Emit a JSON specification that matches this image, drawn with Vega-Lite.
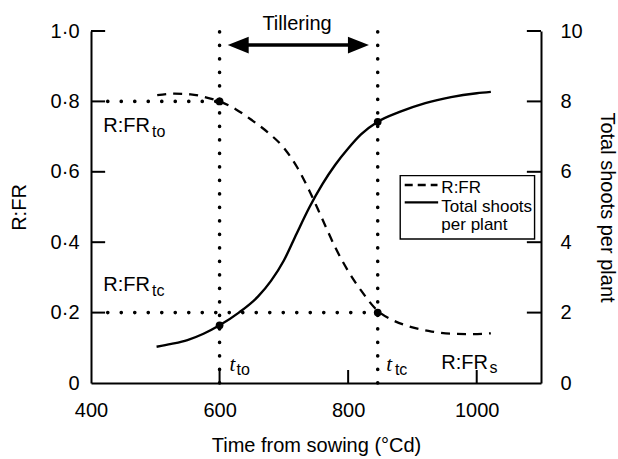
{
  "$schema": "https://vega.github.io/schema/vega-lite/v6.json",
  "width": 450,
  "height": 352,
  "autosize": {"type": "none"},
  "padding": {"left": 91, "top": 31, "right": 77, "bottom": 76},
  "background": "white",
  "config": {
    "font": "Liberation Sans",
    "view": {"stroke": null},
    "axis": {
      "grid": false,
      "ticks": false,
      "domainColor": "black",
      "domainWidth": 2,
      "labelColor": "black",
      "labelFont": "Liberation Sans",
      "labelFontSize": 20,
      "titleColor": "black",
      "titleFont": "Liberation Sans",
      "titleFontSize": 20,
      "titleFontWeight": "normal"
    }
  },
  "datasets": {
    "rfr": [
      {"x": 503, "y": 0.818}, {"x": 530, "y": 0.822}, {"x": 555, "y": 0.82}, {"x": 580, "y": 0.811},
      {"x": 600, "y": 0.8}, {"x": 625, "y": 0.778}, {"x": 650, "y": 0.747}, {"x": 675, "y": 0.712},
      {"x": 700, "y": 0.668}, {"x": 720, "y": 0.615}, {"x": 740, "y": 0.545}, {"x": 760, "y": 0.465},
      {"x": 780, "y": 0.385}, {"x": 800, "y": 0.318}, {"x": 820, "y": 0.263}, {"x": 846, "y": 0.205},
      {"x": 870, "y": 0.178}, {"x": 900, "y": 0.158}, {"x": 930, "y": 0.146}, {"x": 960, "y": 0.14},
      {"x": 990, "y": 0.139}, {"x": 1022, "y": 0.141}
    ],
    "shoots": [
      {"x": 502, "y": 1.03}, {"x": 525, "y": 1.11}, {"x": 550, "y": 1.22}, {"x": 575, "y": 1.4},
      {"x": 600, "y": 1.64}, {"x": 630, "y": 2.0}, {"x": 660, "y": 2.46}, {"x": 680, "y": 2.9},
      {"x": 700, "y": 3.48}, {"x": 720, "y": 4.25}, {"x": 740, "y": 5.0}, {"x": 760, "y": 5.65},
      {"x": 780, "y": 6.2}, {"x": 800, "y": 6.66}, {"x": 820, "y": 7.06}, {"x": 846, "y": 7.42},
      {"x": 880, "y": 7.7}, {"x": 920, "y": 7.95}, {"x": 960, "y": 8.12}, {"x": 1000, "y": 8.23},
      {"x": 1022, "y": 8.27}
    ],
    "solidRules": [
      {"x": 629, "x2": 816, "y": 0.96, "y2": 0.96, "w": "arrow"},
      {"x": 400, "x2": 422, "y": 0.2, "y2": 0.2, "w": "tick"},
      {"x": 400, "x2": 422, "y": 0.4, "y2": 0.4, "w": "tick"},
      {"x": 400, "x2": 422, "y": 0.6, "y2": 0.6, "w": "tick"},
      {"x": 400, "x2": 422, "y": 0.8, "y2": 0.8, "w": "tick"},
      {"x": 400, "x2": 422, "y": 1.0, "y2": 1.0, "w": "tick"},
      {"x": 600, "x2": 600, "y": 0, "y2": 0.037, "w": "tick"},
      {"x": 800, "x2": 800, "y": 0, "y2": 0.037, "w": "tick"},
      {"x": 1000, "x2": 1000, "y": 0, "y2": 0.037, "w": "tick"},
      {"x": 1078, "x2": 1100, "y": 0.2, "y2": 0.2, "w": "tick"},
      {"x": 1078, "x2": 1100, "y": 0.4, "y2": 0.4, "w": "tick"},
      {"x": 1078, "x2": 1100, "y": 0.6, "y2": 0.6, "w": "tick"},
      {"x": 1078, "x2": 1100, "y": 0.8, "y2": 0.8, "w": "tick"},
      {"x": 1078, "x2": 1100, "y": 1.0, "y2": 1.0, "w": "tick"}
    ],
    "guides": [
      {"x": 600, "x2": 600, "y": 0, "y2": 1.0},
      {"x": 846, "x2": 846, "y": 0, "y2": 1.0},
      {"x": 426, "x2": 600, "y": 0.8, "y2": 0.8},
      {"x": 426, "x2": 846, "y": 0.2, "y2": 0.2}
    ],
    "rfrDots": [{"x": 600, "y": 0.8}, {"x": 846, "y": 0.2}],
    "shootDots": [{"x": 600, "y": 1.64}, {"x": 846, "y": 7.42}],
    "arrowHeads": [{"x": 629, "y": 0.96, "dir": "L"}, {"x": 816, "y": 0.96, "dir": "R"}],
    "legendBox": [{"x": 881, "x2": 1090, "y": 0.409, "y2": 0.589}],
    "legendLines": [
      {"x": 888, "x2": 939, "y": 0.5625, "kind": "dash"},
      {"x": 888, "x2": 940, "y": 0.513, "kind": "solid"}
    ],
    "labels": [
      {"x": 720.5, "y": 1.003, "text": "Tillering", "kind": "center"},
      {"x": 419, "y": 0.714, "text": "R:FR", "kind": "main"},
      {"x": 495, "y": 0.7, "text": "to", "kind": "sub"},
      {"x": 419, "y": 0.262, "text": "R:FR", "kind": "main"},
      {"x": 495, "y": 0.247, "text": "tc", "kind": "sub"},
      {"x": 945, "y": 0.04, "text": "R:FR", "kind": "main"},
      {"x": 1020, "y": 0.028, "text": "s", "kind": "sub"},
      {"x": 615.6, "y": 0.034, "text": "t", "kind": "ital"},
      {"x": 626.5, "y": 0.024, "text": "to", "kind": "sub"},
      {"x": 859.4, "y": 0.034, "text": "t", "kind": "ital"},
      {"x": 872.7, "y": 0.024, "text": "tc", "kind": "sub"},
      {"x": 945, "y": 0.539, "text": "R:FR", "kind": "leg"},
      {"x": 945, "y": 0.487, "text": "Total shoots", "kind": "leg"},
      {"x": 945, "y": 0.435, "text": "per plant", "kind": "leg"}
    ]
  },
  "encoding": {
    "x": {"field": "x", "type": "quantitative", "scale": {"domain": [400, 1100], "nice": false, "zero": false},
      "axis": {"values": [400, 600, 800, 1000], "format": "d", "labelPadding": 17, "title": "Time from sowing (°Cd)", "titlePadding": 15, "labelFlush": false}}
  },
  "layer": [
    {
      "encoding": {
        "y": {"field": "y", "type": "quantitative", "scale": {"domain": [0, 1], "nice": false, "zero": false},
          "axis": {"orient": "left", "values": [0, 0.2, 0.4, 0.6, 0.8, 1.0], "labelPadding": 12, "title": "R:FR", "titlePadding": 21,
            "labelExpr": "datum.value == 0 ? '0' : replace(format(datum.value, '.1f'), '.', '·')", "labelFlush": false}}
      },
      "layer": [
        {
          "data": {"name": "guides"},
          "mark": {"type": "rule", "color": "black", "strokeWidth": 3.6, "strokeCap": "round", "strokeDash": [0.1, 13.4]},
          "encoding": {"x2": {"field": "x2"}, "y2": {"field": "y2"}}
        },
        {
          "data": {"name": "solidRules"},
          "mark": {"type": "rule", "color": "black"},
          "encoding": {
            "x2": {"field": "x2"},
            "y2": {"field": "y2"},
            "strokeWidth": {"field": "w", "type": "nominal", "legend": null, "scale": {"domain": ["arrow", "tick"], "range": [3.5, 2]}}
          }
        },
        {
          "data": {"name": "rfr"},
          "mark": {"type": "line", "color": "black", "strokeWidth": 2.3, "strokeDash": [9, 7], "interpolate": "monotone"},
          "encoding": {}
        },
        {
          "data": {"name": "rfrDots"},
          "mark": {"type": "point", "filled": true, "color": "black", "size": 60, "opacity": 1},
          "encoding": {}
        },
        {
          "data": {"name": "arrowHeads"},
          "mark": {"type": "point", "filled": true, "color": "black", "opacity": 1, "size": 441},
          "encoding": {
            "shape": {"field": "dir", "type": "nominal", "legend": null,
              "scale": {"domain": ["L", "R"], "range": ["M-1,0L1,-0.8L1,0.8Z", "M1,0L-1,-0.8L-1,0.8Z"]}}
          }
        },
        {
          "data": {"name": "legendBox"},
          "mark": {"type": "rect", "fill": "white", "stroke": "black", "strokeWidth": 1.4},
          "encoding": {"x2": {"field": "x2"}, "y2": {"field": "y2"}}
        },
        {
          "data": {"name": "legendLines"},
          "transform": [{"filter": "datum.kind == 'dash'"}],
          "mark": {"type": "rule", "color": "black", "strokeWidth": 2.3, "strokeDash": [8, 5]},
          "encoding": {"x2": {"field": "x2"}}
        },
        {
          "data": {"name": "legendLines"},
          "transform": [{"filter": "datum.kind == 'solid'"}],
          "mark": {"type": "rule", "color": "black", "strokeWidth": 2.3},
          "encoding": {"x2": {"field": "x2"}}
        },
        {
          "data": {"name": "labels"},
          "transform": [{"filter": "datum.kind == 'main'"}],
          "mark": {"type": "text", "align": "left", "baseline": "alphabetic", "fontSize": 20, "font": "Liberation Sans", "color": "black"},
          "encoding": {"text": {"field": "text"}}
        },
        {
          "data": {"name": "labels"},
          "transform": [{"filter": "datum.kind == 'center'"}],
          "mark": {"type": "text", "align": "center", "baseline": "alphabetic", "fontSize": 20, "font": "Liberation Sans", "color": "black"},
          "encoding": {"text": {"field": "text"}}
        },
        {
          "data": {"name": "labels"},
          "transform": [{"filter": "datum.kind == 'sub'"}],
          "mark": {"type": "text", "align": "left", "baseline": "alphabetic", "fontSize": 16, "font": "Liberation Sans", "color": "black"},
          "encoding": {"text": {"field": "text"}}
        },
        {
          "data": {"name": "labels"},
          "transform": [{"filter": "datum.kind == 'ital'"}],
          "mark": {"type": "text", "align": "left", "baseline": "alphabetic", "fontSize": 21, "font": "Liberation Serif", "fontStyle": "italic", "color": "black"},
          "encoding": {"text": {"field": "text"}}
        },
        {
          "data": {"name": "labels"},
          "transform": [{"filter": "datum.kind == 'leg'"}],
          "mark": {"type": "text", "align": "left", "baseline": "alphabetic", "fontSize": 17, "font": "Liberation Sans", "color": "black"},
          "encoding": {"text": {"field": "text"}}
        }
      ]
    },
    {
      "encoding": {
        "y": {"field": "y", "type": "quantitative", "scale": {"domain": [0, 10], "nice": false, "zero": false},
          "axis": {"orient": "right", "values": [0, 2, 4, 6, 8, 10], "labelPadding": 19, "title": "Total shoots per plant", "titlePadding": 14, "labelFlush": false}}
      },
      "layer": [
        {
          "data": {"name": "shoots"},
          "mark": {"type": "line", "color": "black", "strokeWidth": 2.4, "interpolate": "monotone"},
          "encoding": {}
        },
        {
          "data": {"name": "shootDots"},
          "mark": {"type": "point", "filled": true, "color": "black", "size": 60, "opacity": 1},
          "encoding": {}
        }
      ]
    }
  ],
  "resolve": {"scale": {"y": "independent"}}
}
